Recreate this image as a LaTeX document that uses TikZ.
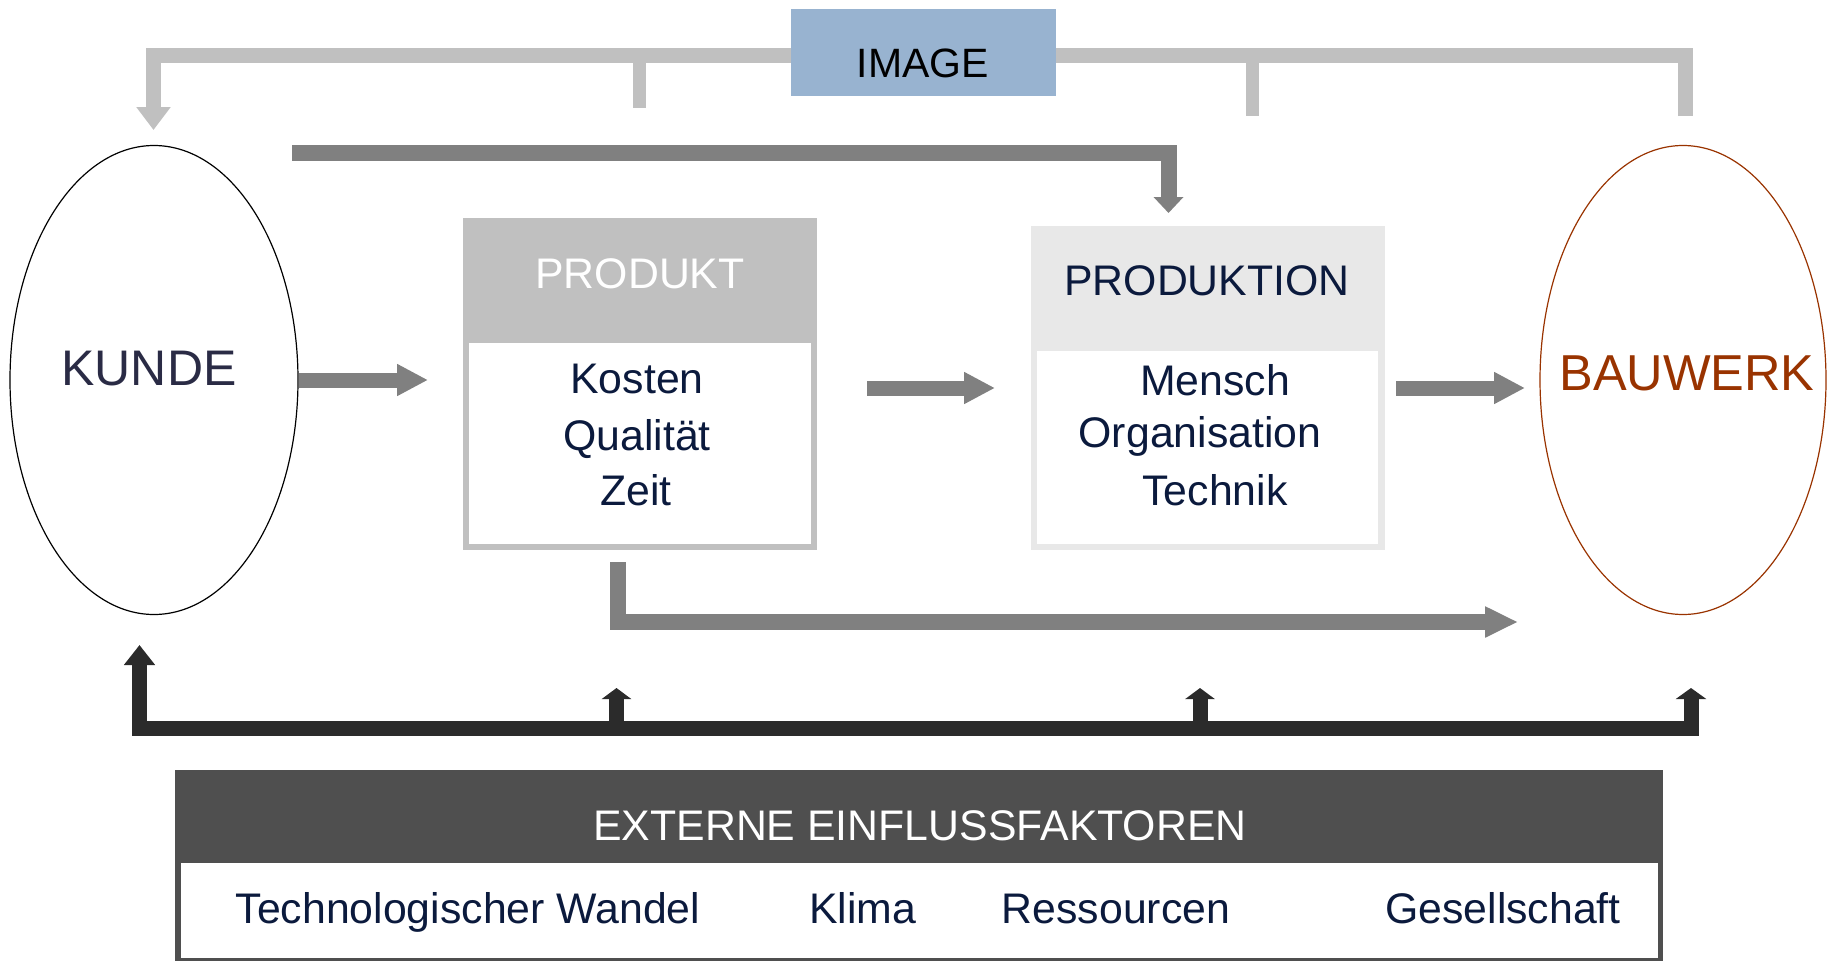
\documentclass[tikz,border=0pt]{standalone}
\usepackage{fontspec}
\setmainfont{Liberation Sans}
\usetikzlibrary{arrows.meta,shapes.geometric}
\definecolor{navy}{HTML}{0B1A3D}
\definecolor{kundec}{HTML}{2A2B45}
\definecolor{brownc}{HTML}{993300}
\definecolor{lightbar}{HTML}{C0C0C0}
\definecolor{midbar}{HTML}{808080}
\definecolor{darkbar}{HTML}{2B2B2B}
\definecolor{imgblue}{HTML}{98B3D0}
\definecolor{prodhead}{HTML}{C0C0C0}
\definecolor{prodnhead}{HTML}{E8E8E8}
\definecolor{exthead}{HTML}{4F4F4F}
\begin{document}
\begin{tikzpicture}[x=1pt,y=-1pt,
  txt/.style={anchor=base, inner sep=0pt, font=\fontsize{42.8}{50}\selectfont, text=navy},
  bigtxt/.style={anchor=base, inner sep=0pt, font=\fontsize{50}{60}\selectfont},
  boxfill/.style={rectangle, inner sep=0pt, anchor=north west, draw=none},
  grayarrow/.style={draw=midbar, line width=15pt, line join=miter, -{Triangle[width=30pt,length=31pt]}},
  oval/.style={ellipse, inner sep=0pt, line width=1.2pt},
  ]
\useasboundingbox (0,0) rectangle (1833,961);

% ellipses
\node[oval, draw=black, minimum width=288pt, minimum height=469pt] (kunde) at (154,380) {};
\node[oval, draw=brownc, minimum width=286pt, minimum height=469pt] (bauwerk) at (1683,380) {};
\node[bigtxt, text=kundec] (kundet) at (149,385) {KUNDE};
\node[bigtxt, text=brownc, font=\fontsize{50.5}{60}\selectfont] (bauwerkt) at (1687,390) {BAUWERK};

% top light gray connector with IMAGE
\coordinate (tr) at (1685,116);
\coordinate (trc) at (1685,55);
\coordinate (tlc) at (153.5,55);
\coordinate (tl) at (153.5,130);
\draw[draw=lightbar, line width=15pt, line join=miter, -{Triangle[width=33pt,length=23pt]}] (tr) -- (trc) -- (tlc) -- (tl);
\draw[draw=lightbar, line width=15pt] (153.5,55) -- (1690,55);
\coordinate (t1a) at (639.5,55); \coordinate (t1b) at (639.5,108);
\coordinate (t2a) at (1252.5,55); \coordinate (t2b) at (1252.5,116);
\draw[draw=lightbar, line width=13pt] (t1a) -- (t1b);
\draw[draw=lightbar, line width=13pt] (t2a) -- (t2b);
\node[boxfill, fill=imgblue, minimum width=265pt, minimum height=87pt] (image) at (791,9) {};
\node[anchor=base, inner sep=0pt, font=\fontsize{41}{50}\selectfont, text=black] (imaget) at (923,77) {IMAGE};

% dark gray top arrow
\coordinate (da) at (292,153);
\coordinate (db) at (1168.5,153);
\coordinate (dc) at (1168.5,213);
\draw[draw=midbar, line width=16pt, line join=miter, -{Triangle[width=29pt,length=16pt]}] (da) -- (db) -- (dc);

% PRODUKT box
\node[boxfill, fill=prodhead, minimum width=354pt, minimum height=332pt] (produkt) at (463,218) {};
\node[boxfill, fill=white, minimum width=342pt, minimum height=201pt] (produktin) at (469,343) {};
\node[txt, text=white] (produktt) at (640,288) {PRODUKT};
\node[txt] (kosten) at (637,393) {Kosten};
\node[txt] (qual) at (637,450) {Qualität};
\node[txt] (zeit) at (636,505) {Zeit};

% PRODUKTION box
\node[boxfill, fill=prodnhead, minimum width=354pt, minimum height=324pt] (produktion) at (1031,226) {};
\node[boxfill, fill=white, minimum width=341pt, minimum height=193pt] (produktionin) at (1037,351) {};
\node[txt] (produktiont) at (1207,295) {PRODUKTION};
\node[txt] (mensch) at (1215,395) {Mensch};
\node[txt] (orga) at (1200,447) {Organisation};
\node[txt] (technik) at (1215,505) {Technik};

% horizontal gray arrows
\coordinate (a1s) at (299,380); \coordinate (a1e) at (428,380);
\coordinate (a2s) at (867,388); \coordinate (a2e) at (995,388);
\coordinate (a3s) at (1396,388); \coordinate (a3e) at (1525,388);
\draw[grayarrow] (a1s) -- (a1e);
\draw[grayarrow] (a2s) -- (a2e);
\draw[grayarrow] (a3s) -- (a3e);

% bottom gray arrow from PRODUKT to BAUWERK
\coordinate (ba) at (618,562);
\coordinate (bb) at (618,622);
\coordinate (bc) at (1518,622);
\draw[draw=midbar, line width=16pt, line join=miter, -{Triangle[width=29pt,length=33pt]}] (ba) -- (bb) -- (bc);

% black influence bar
\coordinate (kl) at (139.5,645);
\coordinate (klc) at (139.5,728.5);
\coordinate (krc) at (1691,728.5);
\coordinate (kr) at (1691,688);
\draw[draw=darkbar, line width=15pt, line join=miter, {Triangle[width=30pt,length=20pt]}-{Triangle[width=30pt,length=11pt]}] (kl) -- (klc) -- (krc) -- (kr);
\coordinate (s1a) at (616.5,728.5); \coordinate (s1b) at (616.5,688);
\coordinate (s2a) at (1200,728.5); \coordinate (s2b) at (1200,688);
\draw[draw=darkbar, line width=15pt, -{Triangle[width=29pt,length=11pt]}] (s1a) -- (s1b);
\draw[draw=darkbar, line width=15pt, -{Triangle[width=29pt,length=11pt]}] (s2a) -- (s2b);

% EXTERNE box
\node[boxfill, fill=exthead, minimum width=1488pt, minimum height=191pt] (extern) at (175,770) {};
\node[boxfill, fill=white, minimum width=1477pt, minimum height=95pt] (externin) at (181,863) {};
\node[txt, text=white] (externt) at (920,840) {EXTERNE EINFLUSSFAKTOREN};
\node[txt] (tech) at (468,923) {Technologischer Wandel};
\node[txt] (klima) at (862.5,923) {Klima};
\node[txt] (ress) at (1116,923) {Ressourcen};
\node[txt] (ges) at (1503,923) {Gesellschaft};
\end{tikzpicture}
\end{document}
